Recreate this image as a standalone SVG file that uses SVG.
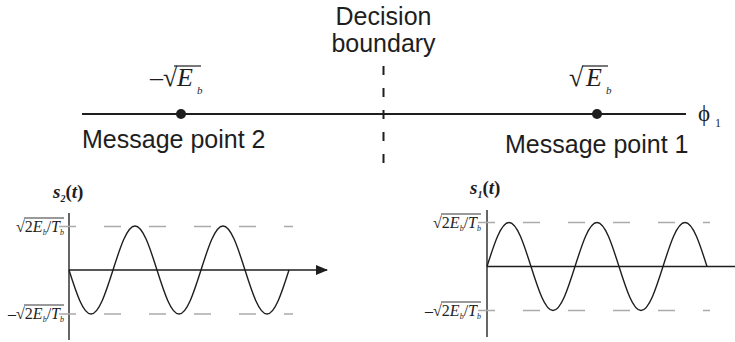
<svg xmlns="http://www.w3.org/2000/svg" width="735" height="342" viewBox="0 0 735 342">
<style>
.sans{font-family:"Liberation Sans",Arial,sans-serif;fill:#1e1e1e}
.serif{font-family:"Liberation Serif","Times New Roman",serif;fill:#1e1e1e}
.it{font-style:italic}
.axis{stroke:#1e1e1e;stroke-width:2.2;fill:none}
.vaxis{stroke:#555;stroke-width:1.8;fill:none}
.haxis{stroke:#1e1e1e;stroke-width:1.5;fill:none}
.ref{stroke:#aaa;stroke-width:1.6;stroke-dasharray:17 28;fill:none}
.wave{stroke:#1e1e1e;stroke-width:1.4;fill:none}
.vinc{stroke:#1e1e1e;stroke-width:1.2}
.vincs{stroke:#1e1e1e;stroke-width:0.9}
</style>
<defs>
<marker id="arr" markerWidth="12" markerHeight="10" refX="11" refY="5" orient="auto" markerUnits="userSpaceOnUse">
<path d="M0,0 L12,5 L0,10 Z" fill="#1e1e1e"/>
</marker>
</defs>

<g id="connectors">
<line class="axis" x1="82" y1="114" x2="686" y2="114"/>
<line x1="383.5" y1="66" x2="383.5" y2="166" stroke="#1e1e1e" stroke-width="2" stroke-dasharray="9 13"/>
</g>

<g id="decision-boundary">
<text class="sans" x="383.5" y="25" font-size="25" text-anchor="middle">Decision</text>
<text class="sans" x="383.5" y="52" font-size="25" text-anchor="middle">boundary</text>
</g>

<g id="message-point-2">
<circle cx="181" cy="114" r="5" fill="#1e1e1e"/>
<text class="serif" x="150" y="86" font-size="26">–√<tspan class="it" x="177">E</tspan><tspan class="it" x="197" y="94" font-size="11">b</tspan></text>
<line class="vinc" x1="174" y1="66" x2="201" y2="66"/>
<text class="sans" x="82" y="148" font-size="25">Message point 2</text>
</g>

<g id="message-point-1">
<circle cx="597" cy="114" r="5" fill="#1e1e1e"/>
<text class="serif" x="569" y="86" font-size="26">√<tspan class="it" x="586">E</tspan><tspan class="it" x="606" y="94" font-size="11">b</tspan></text>
<line class="vinc" x1="582" y1="66" x2="608" y2="66"/>
<text class="sans" x="505" y="153" font-size="25">Message point 1</text>
</g>

<g id="phi-axis-label">
<text class="serif" x="698" y="121" font-size="23">ϕ<tspan x="715" y="127" font-size="12">1</tspan></text>
</g>

<g id="s2-plot">
<line class="vaxis" x1="69" y1="213" x2="69" y2="340"/>
<line class="ref" x1="59" y1="226.5" x2="293" y2="226.5"/>
<line class="ref" x1="59" y1="314" x2="293" y2="314"/>
<line class="haxis" x1="69" y1="270" x2="327" y2="270" marker-end="url(#arr)"/>
<path class="wave" d="M69,270 C76.17,292.54 83.04,314 91,314 S105.83,292.54 113,270 S127.04,226 135,226 S149.83,247.46 157,270 S171.04,314 179,314 S193.83,292.54 201,270 S215.04,226 223,226 S237.83,247.46 245,270 S259.04,314 267,314 S281.83,292.54 289,270"/>
<text class="serif it" x="53" y="198" font-size="19" font-weight="bold">s<tspan font-size="10" dy="4">2</tspan><tspan dy="-4" font-style="normal">(</tspan>t<tspan font-style="normal">)</tspan></text>
<text class="serif" x="64" y="232" font-size="16" text-anchor="end">√2<tspan class="it">E</tspan><tspan class="it" font-size="8" dy="3">b</tspan><tspan dy="-3">/</tspan><tspan class="it">T</tspan><tspan class="it" font-size="8" dy="3">b</tspan></text>
<line class="vincs" x1="24" y1="218" x2="64" y2="218"/>
<text class="serif" x="64" y="319" font-size="16" text-anchor="end">–√2<tspan class="it">E</tspan><tspan class="it" font-size="8" dy="3">b</tspan><tspan dy="-3">/</tspan><tspan class="it">T</tspan><tspan class="it" font-size="8" dy="3">b</tspan></text>
<line class="vincs" x1="24" y1="305" x2="64" y2="305"/>
</g>

<g id="s1-plot">
<line class="vaxis" x1="487" y1="210" x2="487" y2="337"/>
<line class="ref" x1="478" y1="222.5" x2="710" y2="222.5"/>
<line class="ref" x1="478" y1="310.5" x2="710" y2="310.5"/>
<line class="haxis" x1="487" y1="266.5" x2="735" y2="266.5"/>
<path class="wave" d="M487,266.5 C494.17,243.96 501.04,222.5 509,222.5 S523.83,243.96 531,266.5 S545.04,310.5 553,310.5 S567.83,289.04 575,266.5 S589.04,222.5 597,222.5 S611.83,243.96 619,266.5 S633.04,310.5 641,310.5 S655.83,289.04 663,266.5 S677.04,222.5 685,222.5 S699.83,243.96 707,266.5"/>
<text class="serif it" x="470" y="194" font-size="19" font-weight="bold">s<tspan font-size="10" dy="4">1</tspan><tspan dy="-4" font-style="normal">(</tspan>t<tspan font-style="normal">)</tspan></text>
<text class="serif" x="481" y="228" font-size="16" text-anchor="end">√2<tspan class="it">E</tspan><tspan class="it" font-size="8" dy="3">b</tspan><tspan dy="-3">/</tspan><tspan class="it">T</tspan><tspan class="it" font-size="8" dy="3">b</tspan></text>
<line class="vincs" x1="441" y1="214" x2="481" y2="214"/>
<text class="serif" x="481" y="316" font-size="16" text-anchor="end">–√2<tspan class="it">E</tspan><tspan class="it" font-size="8" dy="3">b</tspan><tspan dy="-3">/</tspan><tspan class="it">T</tspan><tspan class="it" font-size="8" dy="3">b</tspan></text>
<line class="vincs" x1="441" y1="302" x2="481" y2="302"/>
</g>
</svg>
